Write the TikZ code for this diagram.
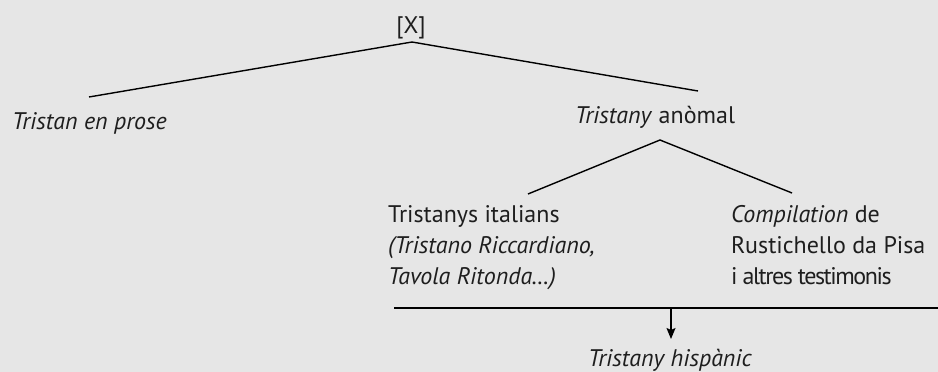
\documentclass[tikz,border=0pt]{standalone}
\usepackage{fontspec}
\setmainfont{PT Sans}
\usetikzlibrary{arrows.meta}
\definecolor{bg}{HTML}{E6E6E6}
\definecolor{txt}{HTML}{1E1E1E}
\begin{document}
\begin{tikzpicture}[x=1pt,y=-1pt,
  lbl/.style={inner sep=0pt,text=txt,font=\fontsize{24}{31}\selectfont},
  ln/.style={draw=black,line width=1.4pt}]
\fill[bg] (0,0) rectangle (938,372);
\useasboundingbox (0,0) rectangle (938,372);
% nodes
\node[lbl,anchor=base] (X) at (411,33) {[X]};
\coordinate (apex1) at (412,42);
\coordinate (l1) at (89,97);
\coordinate (r1) at (698,91);
\node[lbl,anchor=base west] (prose) at (12,129) {\itshape Tristan en prose};
\node[lbl,anchor=base west] (anom) at (575,123) {\textit{Tristany} anòmal};
\coordinate (apex2) at (660,140);
\coordinate (l2) at (528,194);
\coordinate (r2) at (792,193);
\node[lbl,anchor=base west,align=left] (ital) at (388,284) {Tristanys italians\\\itshape(Tristano Riccardiano,\\\itshape Tavola Ritonda…)};
\node[lbl,anchor=base west,align=left] (comp) at (731,284) {\textit{Compilation} de\\Rustichello da Pisa\\{\addfontfeature{LetterSpace=-6}i altres testimonis}};
\coordinate (hl) at (394,308);
\coordinate (hr) at (938,308);
\coordinate (hm) at (671,308);
\node[lbl,anchor=base] (hisp) at (670,366) {\itshape Tristany hispànic};
% connectors
\draw[ln] (l1) -- (apex1) -- (r1);
\draw[ln] (l2) -- (apex2) -- (r2);
\draw[ln] (hl) -- (hr);
\draw[ln,-{Stealth[length=11pt,width=9pt,inset=2pt]}] (hm) -- (671,339);
\end{tikzpicture}
\end{document}
